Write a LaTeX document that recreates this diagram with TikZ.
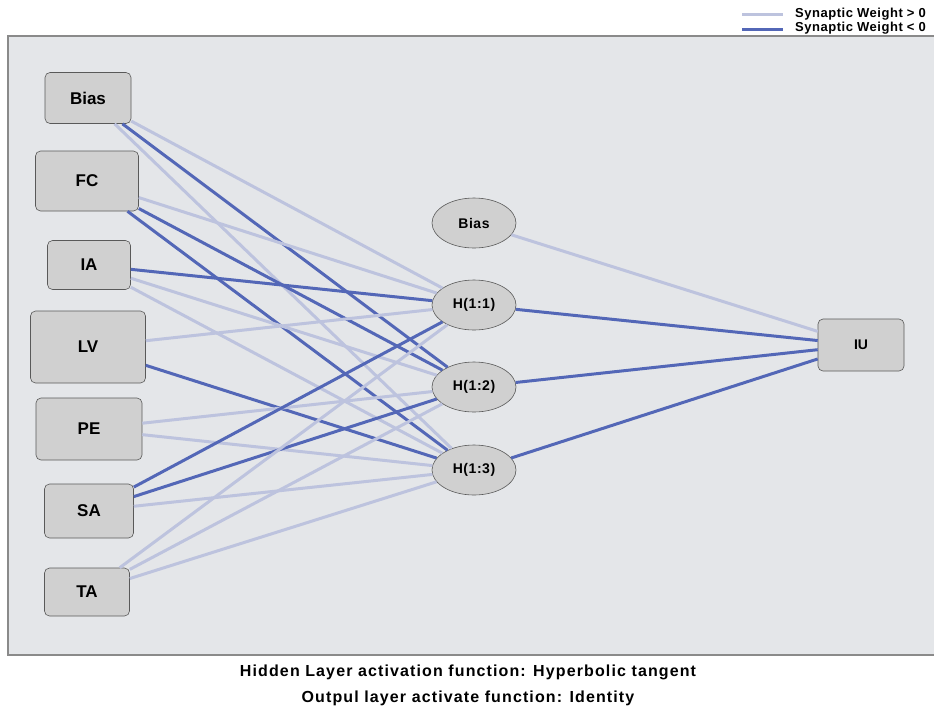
\documentclass[tikz,border=0pt]{standalone}
\usepackage{fontspec}
\setmainfont{Liberation Sans}
\newfontfamily\spacedfont[LetterSpace=7]{Liberation Sans}
\newfontfamily\semispaced[LetterSpace=4]{Liberation Sans}
\usetikzlibrary{shapes.geometric}
\definecolor{poscol}{HTML}{BDC3DE}
\definecolor{negcol}{HTML}{5367B7}
\definecolor{bgcol}{HTML}{E4E6E9}
\definecolor{nodefill}{HTML}{D0D0D0}
\definecolor{framecol}{HTML}{8A8A8A}
\begin{document}
\begin{tikzpicture}[x=1pt,y=-1pt,
  inbox/.style={draw=black!65, fill=nodefill, rounded corners=5pt, line width=0.6pt, font=\bfseries\fontsize{17}{20}\selectfont, inner sep=0pt},
  hid/.style={ellipse, draw=black!65, fill=nodefill, line width=0.6pt, minimum width=84pt, minimum height=50pt, inner sep=0pt, font=\semispaced\bfseries\fontsize{14}{16}\selectfont},
  posw/.style={draw=poscol, line width=3pt},
  negw/.style={draw=negcol, line width=3pt},
  legtext/.style={anchor=west, inner sep=0pt, font=\semispaced\bfseries\fontsize{13}{14}\selectfont},
  captext/.style={inner sep=0pt, font=\spacedfont\bfseries\fontsize{16}{18}\selectfont}]
\useasboundingbox (0,0) rectangle (934,713);
\draw[fill=bgcol, draw=framecol, line width=2.5pt] (8,36) rectangle (950,655);

% input layer
\node[inbox, minimum width=86pt, minimum height=51pt] (ibias) at (88,98) {Bias};
\node[inbox, minimum width=103pt, minimum height=60pt] (fc) at (87,181) {FC};
\node[inbox, minimum width=83pt, minimum height=49pt] (ia) at (89,265) {IA};
\node[inbox, minimum width=115pt, minimum height=72pt] (lv) at (88,347) {LV};
\node[inbox, minimum width=106pt, minimum height=62pt] (pe) at (89,429) {PE};
\node[inbox, minimum width=89pt, minimum height=54pt] (sa) at (89,511) {SA};
\node[inbox, minimum width=85pt, minimum height=48pt] (ta) at (87,592) {TA};

% hidden layer
\node[hid] (hbias) at (474,223) {Bias};
\node[hid] (h1) at (474,305) {H(1:1)};
\node[hid] (h2) at (474,387) {H(1:2)};
\node[hid] (h3) at (474,470) {H(1:3)};

% output
\node[inbox, minimum width=86pt, minimum height=52pt, font=\bfseries\fontsize{14}{16}\selectfont] (iu) at (861,345) {IU};

% input -> hidden
\draw[posw] (ibias) -- (h1);
\draw[negw] (ibias) -- (h2);
\draw[posw] (ibias) -- (h3);
\draw[posw] (fc) -- (h1);
\draw[negw] (fc) -- (h2);
\draw[negw] (fc) -- (h3);
\draw[negw] (ia) -- (h1);
\draw[posw] (ia) -- (h2);
\draw[posw] (ia) -- (h3);
\draw[posw] (lv) -- (h1);
\draw[negw] (lv) -- (h3);
\draw[posw] (pe) -- (h2);
\draw[posw] (pe) -- (h3);
\draw[negw] (sa) -- (h1);
\draw[negw] (sa) -- (h2);
\draw[posw] (sa) -- (h3);
\draw[posw] (ta) -- (h1);
\draw[posw] (ta) -- (h2);
\draw[posw] (ta) -- (h3);

% hidden -> output
\draw[posw] (hbias) -- (iu);
\draw[negw] (h1) -- (iu);
\draw[negw] (h2) -- (iu);
\draw[negw] (h3) -- (iu);

% legend
\coordinate (l1a) at (742,14);
\coordinate (l1b) at (783,14);
\coordinate (l2a) at (742,29);
\coordinate (l2b) at (783,29);
\draw[posw] (l1a) -- (l1b);
\draw[negw] (l2a) -- (l2b);
\node[legtext] (lt1) at (795,14) {Synaptic Weight > 0};
\node[legtext] (lt2) at (795,28) {Synaptic Weight < 0};

% captions
\node[captext] (cap1) at (468,672) {Hidden Layer activation function: Hyperbolic tangent};
\node[captext] (cap2) at (468,698) {Outpul layer activate function: Identity};
\end{tikzpicture}
\end{document}
